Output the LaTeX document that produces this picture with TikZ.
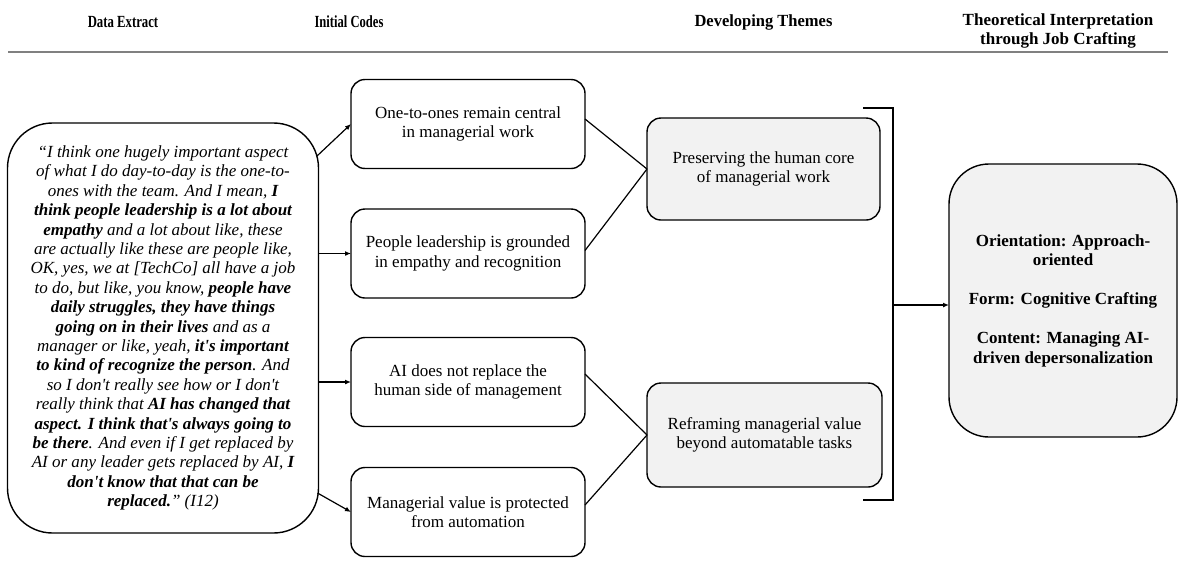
\documentclass[tikz,border=0pt]{standalone}
\usepackage{fontspec}
\setmainfont{Liberation Serif}
\usetikzlibrary{arrows.meta}
\definecolor{themefill}{HTML}{F2F2F2}
\definecolor{rulegray}{HTML}{808080}
\begin{document}
\begin{tikzpicture}[x=1pt,y=-1pt,
  every node/.style={inner sep=0pt, outer sep=0pt},
  header/.style={font=\fontsize{17}{19.5}\selectfont\bfseries, align=center},
  quotebox/.style={draw, line width=1.4pt, rounded corners=45pt, minimum width=311pt, minimum height=410pt,
    align=center, font=\fontsize{17}{19.4}\selectfont\itshape},
  codebox/.style={draw, line width=1.4pt, rounded corners=14pt, minimum width=234pt, minimum height=89pt,
    align=center, font=\fontsize{17}{19.5}\selectfont},
  themebox/.style={codebox, fill=themefill, minimum width=233pt, minimum height=102pt},
  interpbox/.style={draw, line width=1.4pt, rounded corners=40pt, fill=themefill, minimum width=228pt,
    minimum height=273pt, align=center, font=\fontsize{17}{19.5}\selectfont\bfseries},
  arr/.style={line width=1.2pt, -{Latex[length=6pt,width=5pt]}},
  link/.style={line width=1.2pt}]
\useasboundingbox (0,0) rectangle (1183,560);

% column headers and rule
\node[header] (h1) at (123,22) {\scalebox{0.75}[1]{Data Extract}};
\node[header] (h2) at (349,22) {\scalebox{0.74}[1]{Initial Codes}};
\node[header] (h3) at (763.5,22) {\scalebox{0.97}[1]{Developing Themes}};
\node[header] (h4) at (1058,31) {Theoretical Interpretation\\through Job Crafting};
\draw[rulegray, line width=1.5pt] (8,52) -- (1168,52);

% data extract
\node[quotebox] (quote) at (163,328) {%
\textquotedblleft I think one hugely important aspect\\
of what I do day-to-day is the one-to-\\
ones with the team. And I mean, \textbf{I}\\
\textbf{think people leadership is a lot about}\\
\textbf{empathy} and a lot about like, these\\
are actually like these are people like,\\
OK, yes, we at [TechCo] all have a job\\
to do, but like, you know, \textbf{people have}\\
\textbf{daily struggles, they have things}\\
\textbf{going on in their lives} and as a\\
manager or like, yeah, \textbf{it\textquotesingle s important}\\
\textbf{to kind of recognize the person}. And\\
so I don\textquotesingle t really see how or I don\textquotesingle t\\
really think that \textbf{AI has changed that}\\
\textbf{aspect. I think that\textquotesingle s always going to}\\
\textbf{be there}. And even if I get replaced by\\
AI or any leader gets replaced by AI, \textbf{I}\\
\textbf{don\textquotesingle t know that that can be}\\
\textbf{replaced.}\textquotedblright\ (I12)};

% initial codes
\node[codebox] (c1) at (468,124) {One-to-ones remain central\\in managerial work};
\node[codebox] (c2) at (468,253.5) {People leadership is grounded\\in empathy and recognition};
\node[codebox] (c3) at (468,382) {AI does not replace the\\human side of management};
\node[codebox] (c4) at (468,512) {Managerial value is protected\\from automation};

% developing themes
\node[themebox] (t1) at (763.5,169) {Preserving the human core\\of managerial work};
\node[themebox, minimum width=235pt, minimum height=104pt] (t2) at (764.5,435) {Reframing managerial value\\beyond automatable tasks};

% theoretical interpretation
\node[interpbox] (jc) at (1063,300.5) {Orientation: Approach-\\oriented\\[19.5pt]Form: Cognitive Crafting\\[19.5pt]Content: Managing AI-\\driven depersonalization};

% extract to codes
\draw[arr] ([xshift=-1.5pt,yshift=-33pt]quote.north east) -- (c1.west);
\draw[arr] (quote.east |- c2.west) -- (c2.west);
\draw[arr] (quote.east |- c3.west) -- (c3.west);
\draw[arr] ([xshift=-1pt,yshift=40pt]quote.south east) -- (c4.west);

% codes to themes
\draw[link] ([yshift=5pt]c1.east) -- (t1.west);
\draw[link] ([yshift=3pt]c2.east) -- (t1.west);
\draw[link] ([yshift=8pt]c3.east) -- (t2.west);
\draw[link] ([yshift=7pt]c4.east) -- (t2.west);

% bracket joining the themes
\coordinate (btop) at (863,108);
\coordinate (bbot) at (863,500);
\coordinate (bmid) at (893,305);
\draw[link] (btop) -- (bmid |- btop) -- (bmid |- bbot) -- (bbot);
\draw[arr] (bmid) -- (jc.west |- bmid);
\end{tikzpicture}
\end{document}
